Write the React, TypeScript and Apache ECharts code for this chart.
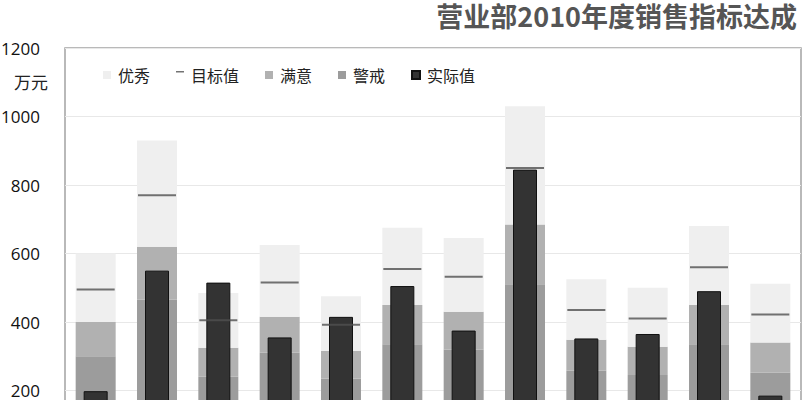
import React, { useEffect, useRef } from "react";
import * as echarts from "echarts";

const categories = ["一部", "二部", "三部", "四部", "五部", "六部", "七部", "八部", "九部", "十部", "十一部", "十二部"];
// stacked background segments
const warnSeg = [300, 465, 240, 310, 235, 335, 320, 510, 258, 245, 335, 252];
const goodSeg = [100, 155, 85, 105, 80, 115, 110, 175, 90, 83, 115, 88];
const excellentSeg = [200, 310, 160, 210, 160, 225, 215, 345, 177, 172, 230, 172];
const targetValues = [495, 770, 405, 515, 392, 555, 532, 850, 435, 410, 560, 422];
const actualValues = [198, 550, 515, 355, 415, 505, 375, 845, 352, 365, 490, 185];
const yTicks = { min: 0, max: 1200, interval: 200 };

const CJK = "'Noto Sans CJK SC', 'Open Sans', sans-serif";

export default function App() {
  const ref = useRef<HTMLDivElement>(null);
  useEffect(() => {
    if (!ref.current) return;
    const chart = echarts.init(ref.current, null, { renderer: "svg" });
    chart.setOption({
      animation: false,
      backgroundColor: "#ffffff",
      title: {
        text: "营业部2010年度销售指标达成",
        right: 6,
        top: 1,
        padding: 0,
        textStyle: { fontFamily: CJK, fontSize: 27, fontWeight: "bold", color: "#555555", lineHeight: 28 },
      },
      legend: {
        left: 103,
        top: 67,
        itemWidth: 8,
        itemHeight: 8,
        itemGap: 26,
        padding: 0,
        textStyle: { fontFamily: CJK, fontSize: 16, color: "#222", padding: [0, 0, 0, 2] },
        data: [
          { name: "优秀", icon: "rect" },
          { name: "目标值", icon: "path://M0,0H8V1.5H0Z M0,8H0.01V8.01H0Z" },
          { name: "满意", icon: "rect" },
          { name: "警戒", icon: "rect" },
          { name: "实际值", icon: "rect" },
        ],
      },
      graphic: [
        {
          type: "text",
          left: 14,
          top: 73,
          style: { text: "万元", fontFamily: CJK, fontSize: 17, fill: "#222" },
        },
      ],
      grid: {
        left: 65,
        right: 2,
        top: 48,
        bottom: 11,
        show: true,
        borderColor: "#a3a3a3",
        borderWidth: 1.5,
        containLabel: false,
        outerBoundsMode: "none",
      },
      xAxis: [
        {
          type: "category",
          data: categories,
          axisLabel: { show: false },
          axisTick: { show: false },
          axisLine: { show: false },
        },
        {
          type: "category",
          data: categories,
          show: false,
        },
      ],
      yAxis: {
        type: "value",
        min: yTicks.min,
        max: yTicks.max,
        interval: yTicks.interval,
        axisLine: { show: false },
        axisTick: { show: false },
        axisLabel: {
          fontFamily: "'Open Sans', sans-serif",
          fontSize: 17,
          lineHeight: 13,
          color: "#111111",
          margin: 25,
          showMinLabel: false,
          formatter: (v: number) => String(v),
        },
        splitLine: { lineStyle: { color: "#e8e8e8", width: 1 } },
      },
      series: [
        {
          name: "警戒",
          type: "bar",
          stack: "bg",
          barWidth: 40,
          data: warnSeg,
          itemStyle: { color: "#9c9c9c" },
        },
        {
          name: "满意",
          type: "bar",
          stack: "bg",
          barWidth: 40,
          data: goodSeg,
          itemStyle: { color: "#b1b1b1" },
        },
        {
          name: "优秀",
          type: "bar",
          stack: "bg",
          barWidth: 40,
          data: excellentSeg,
          itemStyle: { color: "#efefef" },
        },
        {
          name: "实际值",
          type: "bar",
          xAxisIndex: 1,
          barWidth: 24,
          data: actualValues,
          itemStyle: { color: "#333333", borderColor: "#111111", borderWidth: 1 },
          z: 3,
        },
        {
          name: "目标值",
          type: "scatter",
          symbol: "rect",
          symbolSize: [38, 2],
          data: targetValues,
          itemStyle: { color: "#505050" },
          z: 4,
        },
      ],
    });
    return () => chart.dispose();
  }, []);
  return (
    <div style={{ position: "fixed", left: 0, top: 0, width: 803, height: 400, overflow: "hidden", background: "#fff" }}>
      <div ref={ref} style={{ width: 803, height: 470 }} />
    </div>
  );
}
